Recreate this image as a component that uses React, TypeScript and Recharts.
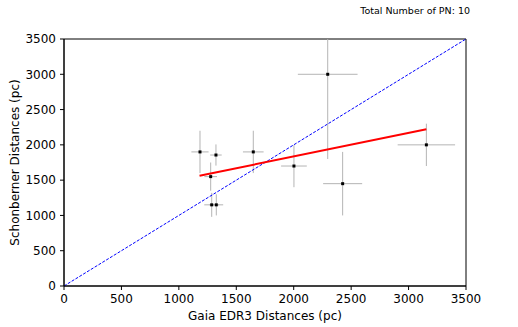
import React from 'react';
import {
  ScatterChart,
  Scatter,
  XAxis,
  YAxis,
  ErrorBar,
  ReferenceLine,
  ReferenceArea,
  Customized,
} from 'recharts';

const gaiaDist = [1184, 1323, 1277, 1286, 1326, 1648, 2296, 2002, 2426, 3155];
const gaiaErr = [75, 50, 55, 65, 60, 90, 260, 112, 170, 250];
const schonDist = [1900, 1856, 1550, 1150, 1150, 1900, 3000, 1700, 1450, 2000];
const schonErr = [300, 150, 200, 170, 150, 300, 1200, 300, 450, 300];

const fitX = [1180, 3155];
const fitY = [1563, 2220];
const diagX = [0, 3500];
const diagY = [0, 3500];
const ticks = [0, 500, 1000, 1500, 2000, 2500, 3000, 3500];
const axisMax = 3500;

const titleText = 'Total Number of PN: 10';
const xLabel = 'Gaia EDR3 Distances (pc)';
const yLabel = 'Schonberner Distances (pc)';

// error bars are clipped to the axis frame (as in the original plot)
const points = gaiaDist.map((x, i) => ({
  x,
  y: schonDist[i],
  xErr: gaiaErr[i],
  yErr: [Math.min(schonErr[i], schonDist[i]), Math.min(schonErr[i], axisMax - schonDist[i])],
}));

const FONT = '"DejaVu Sans", sans-serif';

const Marker = (props: any) => (
  <rect x={props.cx - 1.5} y={props.cy - 1.5} width={3} height={3} fill="#000" />
);

const Title = () => (
  <text x={470} y={14} textAnchor="end" fontSize={9.5} fontFamily={FONT} fill="#000">
    {titleText}
  </text>
);

export default function App() {
  return (
    <div style={{ position: 'absolute', left: 0, top: 0, background: '#fff' }}>
      <ScatterChart
        width={518}
        height={327}
        margin={{ top: 39, right: 52, bottom: 0, left: 0 }}
        style={{ fontFamily: FONT }}
      >
        <XAxis
          type="number"
          dataKey="x"
          domain={[0, axisMax]}
          ticks={ticks}
          allowDataOverflow
          height={41}
          tickSize={4}
          tickMargin={4}
          stroke="#000"
          tick={{ fill: '#000', fontSize: 12, fontFamily: FONT }}
          label={{ value: xLabel, position: 'insideBottom', offset: 7, fill: '#000', fontSize: 12, fontFamily: FONT }}
        />
        <YAxis
          type="number"
          dataKey="y"
          domain={[0, axisMax]}
          ticks={ticks}
          allowDataOverflow
          width={64}
          tickSize={4}
          tickMargin={4}
          stroke="#000"
          tick={{ fill: '#000', fontSize: 12, fontFamily: FONT }}
          label={{
            value: yLabel,
            angle: -90,
            position: 'insideLeft',
            offset: 15,
            fill: '#000',
            fontSize: 12,
            fontFamily: FONT,
            style: { textAnchor: 'middle' },
          }}
        />
        <ReferenceArea x1={0} x2={axisMax} y1={0} y2={axisMax} fill="none" stroke="#000" strokeWidth={1} ifOverflow="visible" />
        <Scatter data={points} shape={Marker} isAnimationActive={false}>
          <ErrorBar dataKey="xErr" direction="x" width={0} stroke="#b4b4b4" strokeWidth={1} isAnimationActive={false} />
          <ErrorBar dataKey="yErr" direction="y" width={0} stroke="#b4b4b4" strokeWidth={1} isAnimationActive={false} />
        </Scatter>
        <ReferenceLine
          segment={[{ x: diagX[0], y: diagY[0] }, { x: diagX[1], y: diagY[1] }]}
          stroke="#0000ff"
          strokeWidth={1}
          strokeDasharray="3 1.5"
        />
        <ReferenceLine
          segment={[{ x: fitX[0], y: fitY[0] }, { x: fitX[1], y: fitY[1] }]}
          stroke="#ff0000"
          strokeWidth={2}
        />
        <Customized component={Title} />
      </ScatterChart>
    </div>
  );
}
